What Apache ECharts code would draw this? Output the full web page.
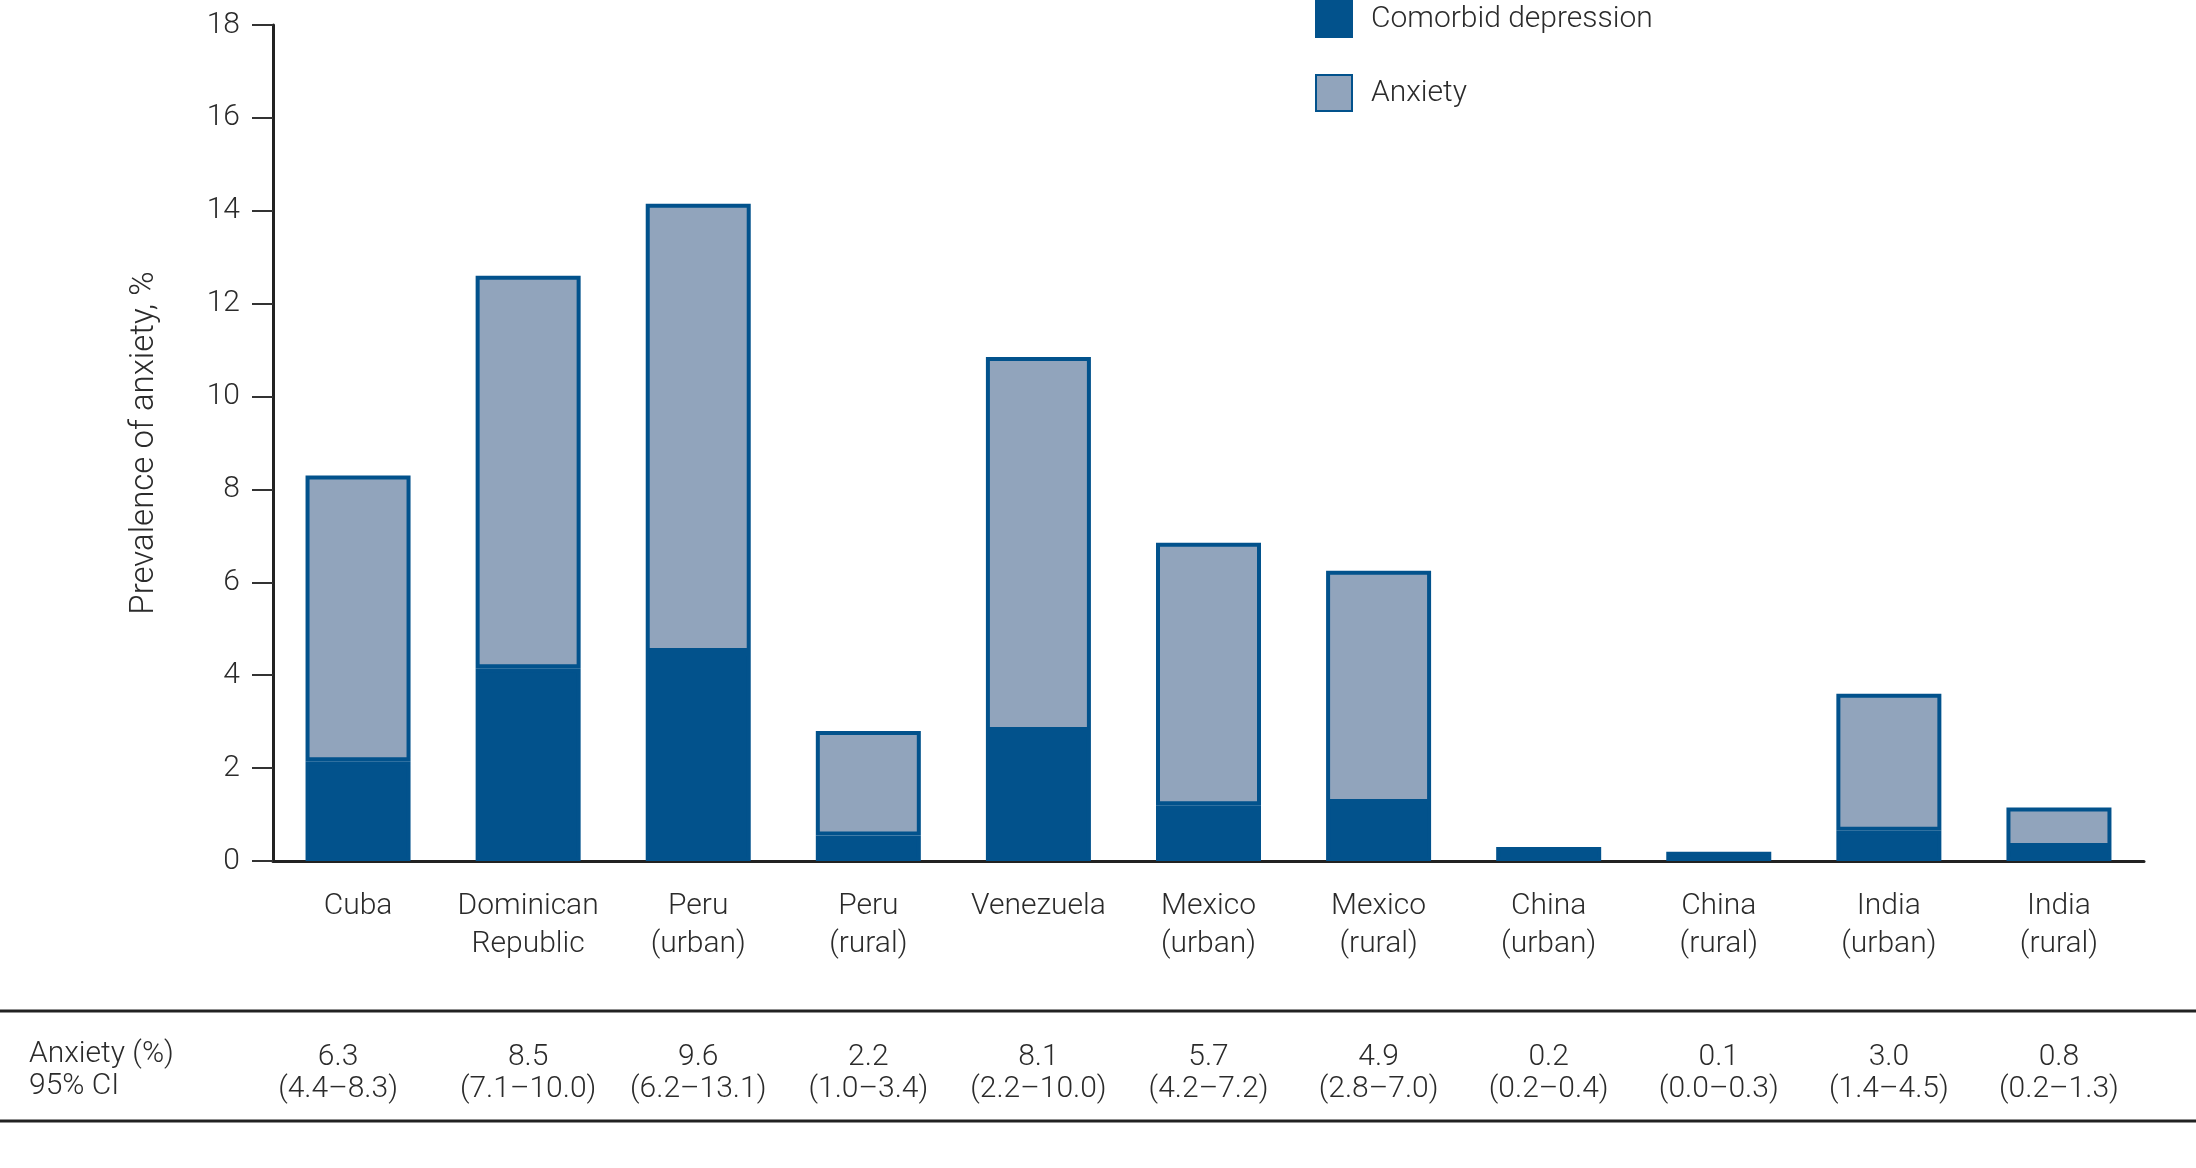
<!DOCTYPE html>
<html>
<head>
<meta charset="utf-8">
<script src="https://cdn.jsdelivr.net/npm/echarts@6/dist/echarts.min.js"></script>
<style>
html,body{margin:0;padding:0;background:#fff;}
#c{width:2196px;height:1168px;}
</style>
</head>
<body>
<div id="c"></div>
<script>
const categories = ['Cuba','Dominican\nRepublic','Peru\n(urban)','Peru\n(rural)','Venezuela','Mexico\n(urban)','Mexico\n(rural)','China\n(urban)','China\n(rural)','India\n(urban)','India\n(rural)'];
const depression = [2.15, 4.15, 4.5, 0.55, 2.8, 1.2, 1.25, 0.3, 0.2, 0.65, 0.3];
const totalPrevalence = [8.3, 12.6, 14.15, 2.8, 10.85, 6.85, 6.25, 0.3, 0.2, 3.6, 1.15];
const anxietyPct = ['6.3','8.5','9.6','2.2','8.1','5.7','4.9','0.2','0.1','3.0','0.8'];
const ci95 = ['(4.4–8.3)','(7.1–10.0)','(6.2–13.1)','(1.0–3.4)','(2.2–10.0)','(4.2–7.2)','(2.8–7.0)','(0.2–0.4)','(0.0–0.3)','(1.4–4.5)','(0.2–1.3)'];
const yTicks = {min: 0, max: 18, interval: 2};

const anxietyOnly = totalPrevalence.map((t, i) => +(t - depression[i]).toFixed(3));

const DARK = '#02528c';
const LIGHT = '#91a4bc';
const TXT = '#2b2b2b';
const FONT = 'Roboto';

const chart = echarts.init(document.getElementById('c'));
const axisY = 861;
const anxRowY = 1057;
const ciRowY = 1089;

const firstColFmt = (v, i) => i === 0 ? '{f|' + v + '}' : v;
const tableLabel = {
  fontSize: 30, margin: 0, verticalAlign: 'middle', color: TXT, fontFamily: FONT, fontWeight: 300, interval: 0,
  formatter: firstColFmt,
  rich: {f: {fontSize: 30, fontFamily: FONT, fontWeight: 300, color: TXT, padding: [0, 40, 0, 0]}}
};

chart.setOption({
  animation: false,
  textStyle: {fontFamily: FONT, fontWeight: 300, color: TXT},
  grid: {left: 273, right: 52, top: 25, bottom: 1168 - axisY},
  legend: {
    orient: 'vertical', left: 1315, top: 0, padding: 0,
    itemWidth: 36, itemHeight: 36, itemGap: 36,
    icon: 'rect',
    textStyle: {fontSize: 30, fontFamily: FONT, fontWeight: 300, color: TXT, padding: [0,0,0,14]},
    data: ['Comorbid depression', 'Anxiety']
  },
  xAxis: [
    {
      type: 'category', data: categories,
      axisLine: {lineStyle: {color: '#222', width: 3}},
      axisTick: {show: false},
      axisLabel: {fontSize: 30, lineHeight: 38, margin: 26, color: TXT, fontFamily: FONT, fontWeight: 300, interval: 0}
    },
    {
      type: 'category', data: anxietyPct, position: 'bottom', offset: anxRowY - axisY,
      axisLine: {show: false}, axisTick: {show: false},
      axisLabel: tableLabel
    },
    {
      type: 'category', data: ci95, position: 'bottom', offset: ciRowY - axisY,
      axisLine: {show: false}, axisTick: {show: false},
      axisLabel: tableLabel
    }
  ],
  yAxis: {
    type: 'value', min: yTicks.min, max: yTicks.max, interval: yTicks.interval,
    name: 'Prevalence of anxiety, %', nameLocation: 'middle', nameGap: 112,
    nameTextStyle: {fontSize: 33, color: TXT, fontFamily: FONT, fontWeight: 300},
    axisLine: {show: true, lineStyle: {color: '#222', width: 3}},
    axisTick: {show: true, length: 21, lineStyle: {color: '#333', width: 2}},
    axisLabel: {fontSize: 30, margin: 33, color: TXT, fontFamily: FONT, fontWeight: 300},
    splitLine: {show: false}
  },
  series: [
    {
      name: 'Comorbid depression', type: 'bar', stack: 'a', barWidth: 105,
      data: depression,
      itemStyle: {color: DARK, borderColor: DARK, borderWidth: 4}
    },
    {
      name: 'Anxiety', type: 'bar', stack: 'a', barWidth: 105,
      data: anxietyOnly.map(v => v > 0 ? v : '-'),
      itemStyle: {color: LIGHT, borderColor: DARK, borderWidth: 4}
    }
  ],
  graphic: [
    {type: 'line', shape: {x1: 0, y1: 1011, x2: 2196, y2: 1011}, style: {stroke: '#222', lineWidth: 3}},
    {type: 'line', shape: {x1: 0, y1: 1121, x2: 2196, y2: 1121}, style: {stroke: '#222', lineWidth: 3}},
    {type: 'text', left: 29, top: anxRowY - 18, style: {text: 'Anxiety (%)', fontSize: 30, fontFamily: FONT, fontWeight: 300, fill: TXT}},
    {type: 'text', left: 29, top: ciRowY - 18, style: {text: '95% CI', fontSize: 30, fontFamily: FONT, fontWeight: 300, fill: TXT}}
  ]
});
</script>
</body>
</html>
